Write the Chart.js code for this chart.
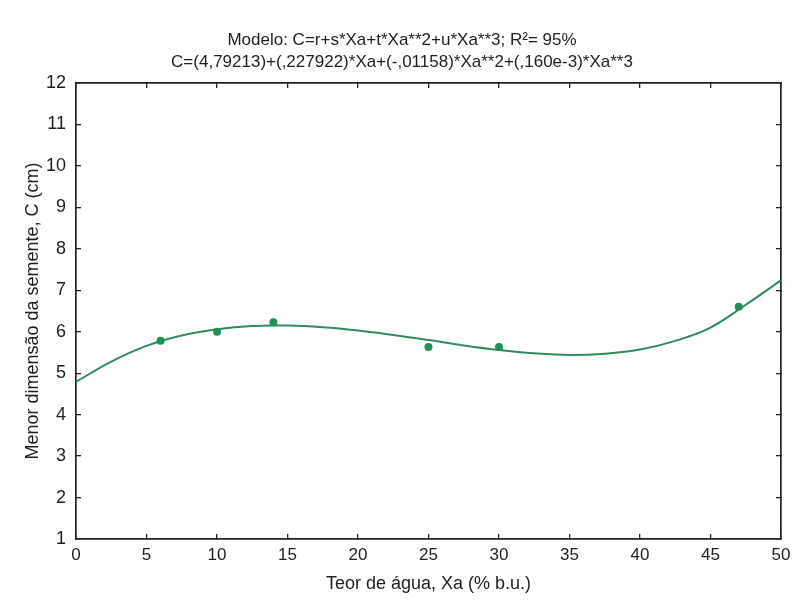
<!DOCTYPE html>
<html><head><meta charset="utf-8">
<script src="https://cdn.jsdelivr.net/npm/chart.js@4/dist/chart.umd.min.js"></script>
<style>html,body{margin:0;padding:0;background:#fff;}#wrap{width:792px;height:600px;}</style>
</head><body><div id="wrap"><canvas id="c" width="792" height="600"></canvas></div>
<script>
const titleLines = ["Modelo: C=r+s*Xa+t*Xa**2+u*Xa**3; R\u00B2= 95%", "C=(4,79213)+(,227922)*Xa+(-,01158)*Xa**2+(,160e-3)*Xa**3"];
const xTitle = "Teor de \u00E1gua, Xa (% b.u.)";
const yTitle = "Menor dimens\u00E3o da semente, C (cm)";
const obsX = [6, 10, 14, 25, 30, 47];
const obsY = [5.78, 6.00, 6.23, 5.63, 5.63, 6.60];
const fitX = [0, 2.5, 5, 7.5, 10, 12.5, 15, 17.5, 20, 22.5, 25, 27.5, 30, 32.5, 35, 37.5, 40, 42.5, 45, 47.5, 50];
const fitY = [4.79, 5.28, 5.66, 5.91, 6.06, 6.14, 6.15, 6.11, 6.03, 5.92, 5.80, 5.67, 5.56, 5.48, 5.44, 5.47, 5.57, 5.78, 6.10, 6.65, 7.24];
const xMin = 0, xMax = 50, xStep = 5;
const yMin = 1, yMax = 12, yStep = 1;

const FONT = "'Liberation Sans', Arial, Helvetica, sans-serif";
const INK = '#1e1e1e';
const axisBorder = {display: true, color: '#222', width: 1.7};
const inGrid = {display: true, drawOnChartArea: false, drawTicks: true, tickLength: -5, color: '#222', lineWidth: 1.3};
const noPad = s => { s.paddingLeft = 0; s.paddingRight = 0; s.paddingTop = 0; s.paddingBottom = 0; };

new Chart(document.getElementById('c'), {
  type: 'scatter',
  data: {
    datasets: [
      {
        label: 'ajuste',
        data: fitX.map((x, i) => ({x: x, y: fitY[i]})),
        showLine: true,
        borderColor: '#2f8a5e',
        borderWidth: 2,
        pointRadius: 0,
        tension: 0.4,
        fill: false,
        order: 2
      },
      {
        label: 'observado',
        data: obsX.map((x, i) => ({x: x, y: obsY[i]})),
        showLine: false,
        pointRadius: 4,
        pointBackgroundColor: '#1f9058',
        pointBorderColor: '#1f9058',
        pointBorderWidth: 0,
        order: 1
      }
    ]
  },
  options: {
    responsive: false,
    devicePixelRatio: 1,
    animation: false,
    layout: {padding: {left: 12, right: 0, top: 0, bottom: 0}},
    plugins: {
      legend: {display: false},
      tooltip: {enabled: false},
      title: {
        display: true,
        text: titleLines,
        color: INK,
        font: {family: FONT, size: 17, weight: 'normal', lineHeight: 1.3},
        padding: {top: 29, bottom: 0}
      }
    },
    scales: {
      x: {
        type: 'linear', position: 'bottom', min: xMin, max: xMax,
        border: axisBorder, grid: inGrid,
        ticks: {stepSize: xStep, color: INK, font: {family: FONT, size: 17}, padding: 11, maxRotation: 0},
        title: {display: true, text: xTitle, color: INK, font: {family: FONT, size: 18}, padding: {top: 0, bottom: 5}},
        afterFit: s => { noPad(s); s.height = 61; }
      },
      x2: {
        type: 'linear', position: 'top', min: xMin, max: xMax,
        border: axisBorder, grid: inGrid,
        ticks: {stepSize: xStep, display: false},
        afterFit: s => { noPad(s); s.height = 9.8; }
      },
      y: {
        type: 'linear', position: 'left', min: yMin, max: yMax,
        border: axisBorder, grid: inGrid,
        ticks: {stepSize: yStep, color: INK, font: {family: FONT, size: 18}, padding: 15},
        title: {display: true, text: yTitle, color: INK, font: {family: FONT, size: 18}, padding: {top: 10, bottom: 0}},
        afterFit: s => { noPad(s); s.width = 64; }
      },
      y2: {
        type: 'linear', position: 'right', min: yMin, max: yMax,
        border: axisBorder, grid: inGrid,
        ticks: {stepSize: yStep, display: false},
        afterFit: s => { noPad(s); s.width = 11; }
      }
    }
  }
});
</script></body></html>
